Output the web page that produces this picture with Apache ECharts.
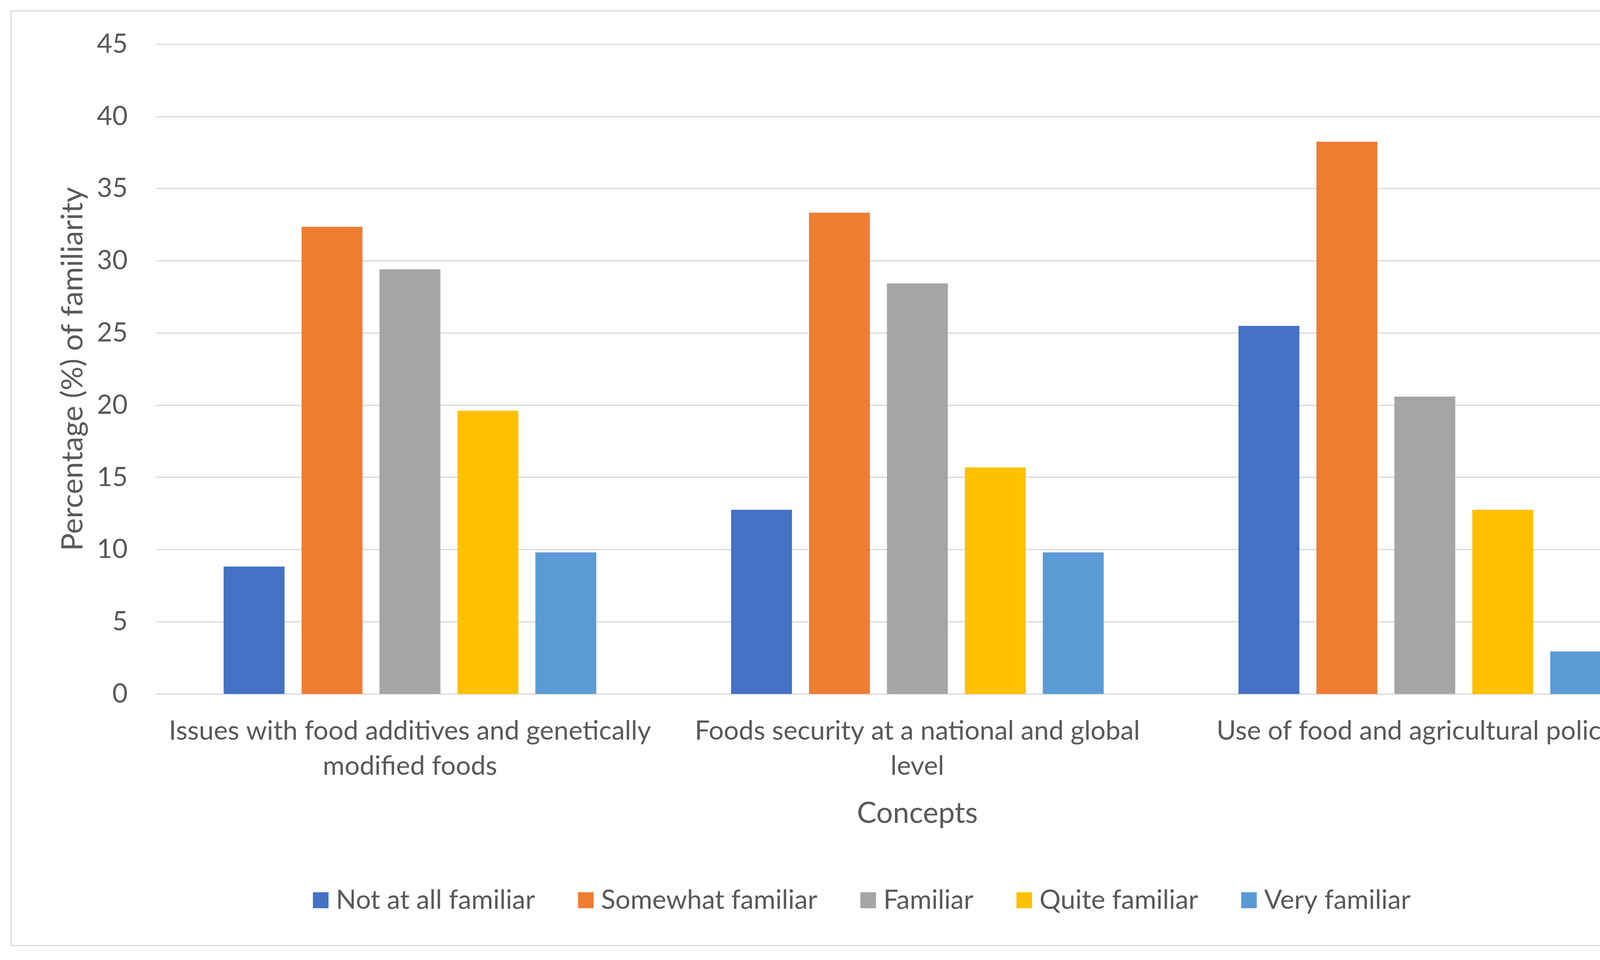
<!DOCTYPE html>
<html>
<head>
<meta charset="utf-8">
<script src="https://cdn.jsdelivr.net/npm/echarts@6/dist/echarts.min.js"></script>
<style>
  html, body { margin: 0; padding: 0; background: #fff; }
  #chart { width: 4412px; height: 2457px; }
</style>
</head>
<body>
<div id="chart"></div>
<script>
// 数据
const concepts = [
  'Issues with food additives and genetically\nmodified foods',
  'Foods security at a national and global\nlevel',
  'Use of food and agricultural policies'
];
const levels = ['Not at all familiar', 'Somewhat familiar', 'Familiar', 'Quite familiar', 'Very familiar'];
const notAtAll = [8.82, 12.75, 25.49];
const somewhat = [32.35, 33.33, 38.24];
const familiar = [29.41, 28.43, 20.59];
const quite = [19.61, 15.69, 12.75];
const very = [9.8, 9.8, 2.94];
const yTicks = [0, 45, 5]; // min, max, interval

const colors = ['#4472C4', '#ED7D31', '#A5A5A5', '#FFC000', '#5B9BD5'];
const FONT = 'Lato';
const TXT = '#595959';

let chart = echarts.init(document.getElementById('chart'), null, { renderer: 'canvas' });

const makeSeries = (name, data) => ({
  name: name,
  type: 'bar',
  data: data,
  barWidth: '12%',
  barGap: '28%',
  emphasis: { disabled: true }
});

let option = {
  animation: false,
  color: colors,
  textStyle: { fontFamily: FONT, color: TXT },
  graphic: [
    {
      // 图表外框
      type: 'rect',
      shape: { x: 28, y: 28, width: 4356, height: 2392 },
      style: { fill: 'none', stroke: '#D9D9D9', lineWidth: 3 },
      silent: true
    }
  ],
  grid: {
    left: 400,
    right: 115,
    top: 113,
    bottom: 681
  },
  legend: {
    data: levels,
    left: 'center',
    top: 2265,
    itemWidth: 40,
    itemHeight: 41,
    itemGap: 110,
    icon: 'rect',
    textStyle: {
      fontFamily: FONT,
      fontSize: 68,
      color: TXT,
      padding: [0, 0, 0, 14]
    }
  },
  xAxis: {
    type: 'category',
    data: concepts,
    name: 'Concepts',
    nameLocation: 'middle',
    nameGap: 264,
    nameTextStyle: { fontFamily: FONT, fontSize: 75, color: TXT, lineHeight: 84 },
    axisLine: { lineStyle: { color: '#D9D9D9', width: 3 } },
    axisTick: { show: false },
    axisLabel: {
      fontFamily: FONT,
      fontSize: 68,
      color: TXT,
      lineHeight: 90,
      margin: 50,
      interval: 0
    }
  },
  yAxis: {
    type: 'value',
    min: yTicks[0],
    max: yTicks[1],
    interval: yTicks[2],
    name: 'Percentage (%) of familiarity',
    nameLocation: 'middle',
    nameGap: 176,
    nameTextStyle: { fontFamily: FONT, fontSize: 76, color: TXT },
    axisLine: { show: false },
    axisTick: { show: false },
    axisLabel: { fontFamily: FONT, fontSize: 68, color: TXT, margin: 73 },
    splitLine: { lineStyle: { color: '#D9D9D9', width: 3 } }
  },
  series: [
    makeSeries(levels[0], notAtAll),
    makeSeries(levels[1], somewhat),
    makeSeries(levels[2], familiar),
    makeSeries(levels[3], quite),
    makeSeries(levels[4], very)
  ]
};

chart.setOption(option);
</script>
</body>
</html>
